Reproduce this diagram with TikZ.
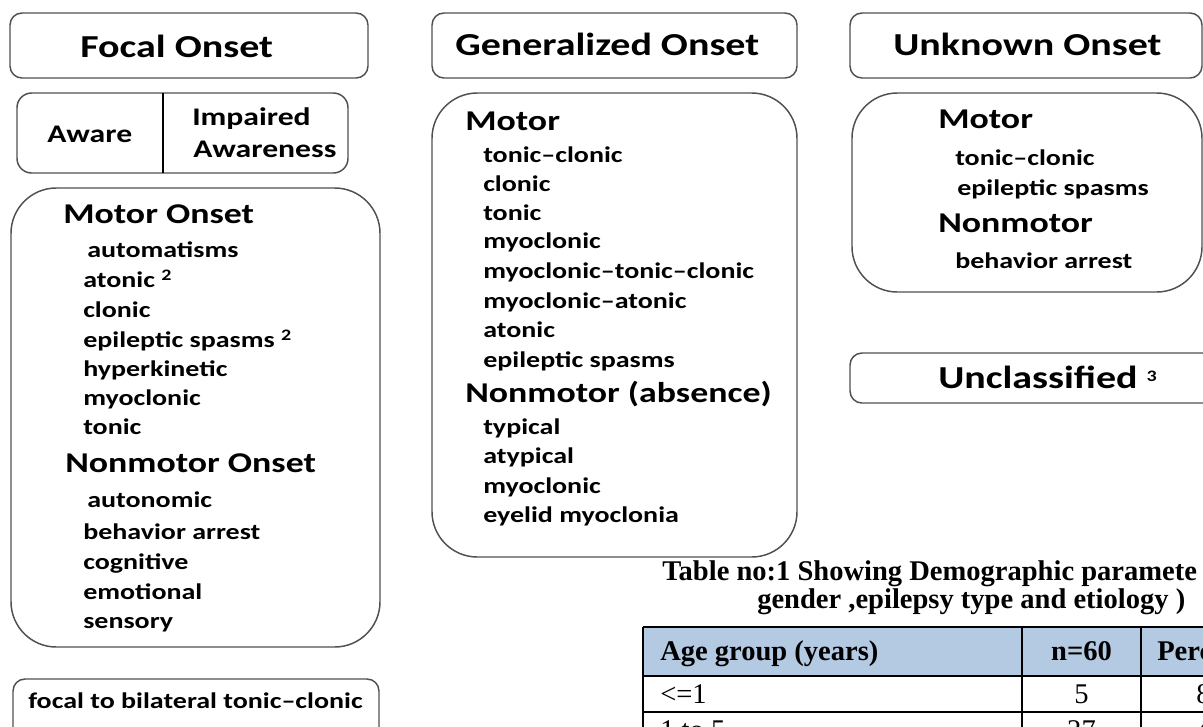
\documentclass[tikz,border=0pt]{standalone}
\usepackage{fontspec}
\setmainfont{Liberation Serif}
\newfontfamily\cf[FakeStretch=1.25]{Carlito}
\definecolor{hdrblue}{RGB}{180,201,226}
\definecolor{boxline}{RGB}{80,80,80}
\newcommand{\supnum}[1]{\raisebox{5pt}{\fontsize{12}{12}\selectfont #1}}
\tikzset{
 bx/.style={draw=boxline, line width=1.1pt, rounded corners=9pt},
 bigbx/.style={draw=boxline, line width=1.1pt, rounded corners=34pt},
 ttl/.style={font=\cf\bfseries\fontsize{24}{28}\selectfont, inner sep=0pt, anchor=base west},
 hd/.style={font=\cf\bfseries\fontsize{21.5}{25}\selectfont, inner sep=0pt, anchor=base west},
 itm/.style={font=\cf\bfseries\fontsize{16.8}{20}\selectfont, inner sep=0pt, anchor=base west},
 aw/.style={font=\cf\bfseries\fontsize{19}{22}\selectfont, inner sep=0pt, anchor=base west},
 tt/.style={font=\bfseries\fontsize{21.4}{25}\selectfont, inner sep=0pt, anchor=base west},
 tc/.style={font=\fontsize{21.4}{25}\selectfont, inner sep=0pt},
 grid/.style={draw=black, line width=1.7pt}
}
\begin{document}
\begin{tikzpicture}[x=0.75pt,y=-0.75pt]
\useasboundingbox (0,0) rectangle (1203,726);
\clip (0,0) rectangle (1203,726);
\fill[white] (0,0) rectangle (1203,726);

% ---------- Focal column ----------
\draw[bx] (10,13) rectangle (368,78);
\node[ttl] (focal) at (80,57) {Focal Onset};

\draw[bx, rounded corners=11pt] (17,93) rectangle (348,173);
\draw[black, line width=1.6pt] (163,93) -- (163,173);
\node[aw] (aware) at (47,142) {Aware};
\node[aw] (impaired) at (192,125) {Impaired};
\node[aw] (awareness) at (193,157) {Awareness};

\draw[bigbx] (11,188) rectangle (380,647);
\node[hd] (fmotor) at (63,223) {Motor Onset};
\node[itm] (f1) at (87,257) {automatisms};
\node[itm] (f2) at (83,287) {atonic \supnum{2}};
\node[itm] (f3) at (83,317) {clonic};
\node[itm] (f4) at (83,347) {epileptic spasms \supnum{2}};
\node[itm] (f5) at (83,376) {hyperkinetic};
\node[itm] (f6) at (83,405) {myoclonic};
\node[itm] (f7) at (83,434) {tonic};
\node[hd] (fnon) at (65,472) {Nonmotor Onset};
\node[itm] (f8) at (87,507) {autonomic};
\node[itm] (f9) at (83,539) {behavior arrest};
\node[itm] (f10) at (83,569) {cognitive};
\node[itm] (f11) at (83,599) {emotional};
\node[itm] (f12) at (83,628) {sensory};

\draw[bx] (13,679) rectangle (379,760);
\node[itm] (fbtc) at (28,708) {focal to bilateral tonic\textendash clonic};

% ---------- Generalized column ----------
\draw[bx] (432,13) rectangle (797,78);
\node[ttl] (gen) at (455,55) {Generalized Onset};

\draw[bigbx] (432,93) rectangle (797,557);
\node[hd] (gmotor) at (465,130) {Motor};
\node[itm] (g1) at (483,162) {tonic\textendash clonic};
\node[itm] (g2) at (483,191) {clonic};
\node[itm] (g3) at (483,220) {tonic};
\node[itm] (g4) at (483,248) {myoclonic};
\node[itm] (g5) at (483,278) {myoclonic\textendash tonic\textendash clonic};
\node[itm] (g6) at (483,308) {myoclonic\textendash atonic};
\node[itm] (g7) at (483,337) {atonic};
\node[itm] (g8) at (483,367) {epileptic spasms};
\node[hd] (gnon) at (465,402) {Nonmotor (absence)};
\node[itm] (g9) at (483,434) {typical};
\node[itm] (g10) at (483,463) {atypical};
\node[itm] (g11) at (483,493) {myoclonic};
\node[itm] (g12) at (483,522) {eyelid myoclonia};

% ---------- Unknown column ----------
\draw[bx] (850,13) rectangle (1202,78);
\node[ttl] (unk) at (893,55) {Unknown Onset};

\draw[bigbx] (852,93) rectangle (1202,292);
\node[hd] (umotor) at (938,128) {Motor};
\node[itm] (u1) at (955,165) {tonic\textendash clonic};
\node[itm] (u2) at (957,195) {epileptic spasms};
\node[hd] (unon) at (938,232) {Nonmotor};
\node[itm] (u3) at (955,268) {behavior arrest};

\draw[bx] (850,353) rectangle (1215,403);
\node[ttl] (uncl) at (938,388) {Unclassified \supnum{3}};

% ---------- Table ----------
\node[tt] (cap1) at (662,580) {Table no:1 Showing Demographic paramete};
\node[tt] (cap2) at (757,608) {gender ,epilepsy type and etiology )};

\fill[hdrblue] (643,627) rectangle (1215,676);
\draw[grid] (643,627) -- (1215,627);
\draw[grid] (643,676) -- (1215,676);
\draw[grid] (643,712) -- (1215,712);
\draw[grid] (643,627) -- (643,740);
\draw[grid] (1022,627) -- (1022,740);
\draw[grid] (1141,627) -- (1141,740);

\node[tt] (h1) at (660,660) {Age group (years)};
\node[tt, anchor=base] (h2) at (1081.5,660) {n=60};
\node[tt] (h3) at (1157,660) {Perc};
\node[tc, anchor=base west] (r1a) at (660,703) {<=1};
\node[tc, anchor=base] (r1b) at (1081.5,703) {5};
\node[tc, anchor=base west] (r1c) at (1196,703) {8};
\node[tc, anchor=base west] (r2a) at (660,739) {1 to 5};
\node[tc, anchor=base] (r2b) at (1081.5,739) {27};
\node[tc, anchor=base west] (r2c) at (1196,739) {4};
\end{tikzpicture}
\end{document}
